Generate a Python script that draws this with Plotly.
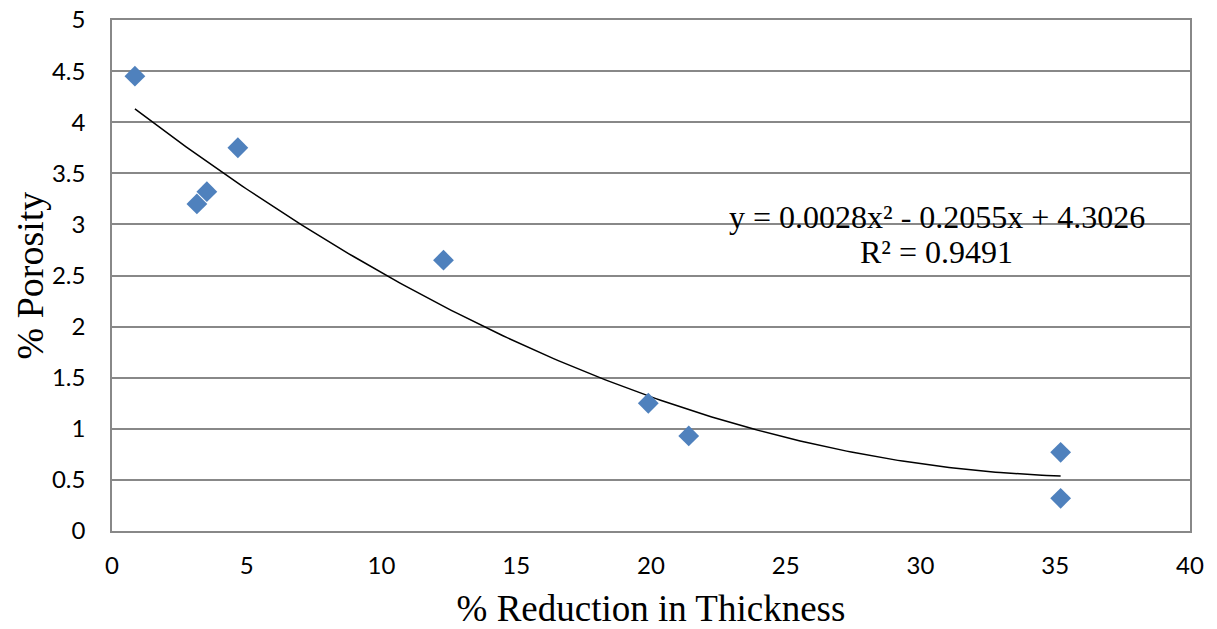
import numpy as np
import plotly.graph_objects as go

# Measured points
reduction = [0.85, 3.15, 3.52, 4.67, 12.3, 19.9, 21.4, 35.2, 35.2]
porosity = [4.45, 3.20, 3.32, 3.75, 2.65, 1.25, 0.93, 0.77, 0.32]

# Quadratic fit coefficients (a x^2 + b x + c)
fit_a, fit_b, fit_c = 0.0028, -0.2055, 4.3026
r_squared = 0.9491

x_ticks = [0, 5, 10, 15, 20, 25, 30, 35, 40]
y_ticks = [0, 0.5, 1, 1.5, 2, 2.5, 3, 3.5, 4, 4.5, 5]

xf = np.linspace(min(reduction), max(reduction), 200)
yf = fit_a * xf**2 + fit_b * xf + fit_c

fig = go.Figure()
fig.add_trace(go.Scatter(
    x=xf, y=yf, mode="lines",
    line=dict(color="black", width=1.5),
    hoverinfo="skip", showlegend=False,
))
fig.add_trace(go.Scatter(
    x=reduction, y=porosity, mode="markers",
    marker=dict(symbol="diamond", size=16, color="#4F81BD",
                line=dict(width=0)),
    showlegend=False,
))

grid_col = "#888888"
serif = "Liberation Serif, Times New Roman, serif"
tick_font = dict(family="Lato, Liberation Sans, sans-serif", size=24, color="black")
fig.update_xaxes(
    range=[0, 40], tickvals=x_ticks, showgrid=False, zeroline=False,
    showline=True, linecolor=grid_col, linewidth=1.5, mirror=True,
    ticks="outside", ticklen=12, tickcolor="rgba(0,0,0,0)",
    tickfont=tick_font, automargin=False,
    title=dict(text="% Reduction in Thickness",
               font=dict(family=serif, size=37, color="black"),
               standoff=19),
)
fig.update_yaxes(
    range=[0, 5], tickvals=y_ticks, showgrid=True, gridcolor=grid_col, gridwidth=1.5,
    zeroline=False, showline=True, linecolor=grid_col, linewidth=1.5, mirror=True,
    ticks="outside", ticklen=20, tickcolor="rgba(0,0,0,0)",
    tickfont=tick_font, automargin=False,
)

# Vertical axis title
fig.add_annotation(
    x=0, y=0.5, xref="paper", yref="paper", xanchor="center", yanchor="middle",
    xshift=-83, textangle=-90, showarrow=False,
    text="% Porosity", font=dict(family=serif, size=38, color="black"),
)

eq_font = dict(family=serif, size=32, color="black")
fig.add_annotation(
    x=30.6, y=3.07, xref="x", yref="y", showarrow=False,
    text=f"y = {fit_a}x² - {abs(fit_b)}x + {fit_c}", font=eq_font,
)
fig.add_annotation(
    x=30.6, y=2.73, xref="x", yref="y", showarrow=False,
    text=f"R² = {r_squared}", font=eq_font,
)

fig.update_layout(
    width=1217, height=629,
    margin=dict(l=112, r=27, t=20, b=98),
    paper_bgcolor="white", plot_bgcolor="white",
)
fig.write_html("out.html")
